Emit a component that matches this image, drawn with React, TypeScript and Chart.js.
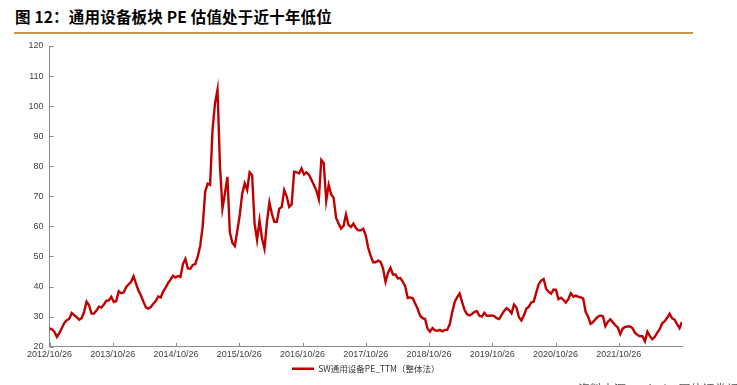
import React, { useEffect, useRef } from 'react';
import { Chart, registerables } from 'chart.js';

Chart.register(...registerables);

const titleText = '图 12：通用设备板块 PE 估值处于近十年低位';
const sourceText = '资料来源：Wind，国信证券经济研究所';
const seriesName = 'SW通用设备PE_TTM（整体法）';

// Biweekly PE_TTM readings, 2012/10/26 → 2022/10
const peValues = [
  26.1, 25.8, 24.9, 23.2, 24.6, 26.2, 27.9, 28.8, 29.3, 31.2,
  30.5, 29.8, 29.0, 29.5, 31.6, 35.0, 33.8, 31.0, 31.0, 32.0,
  33.3, 33.0, 34.0, 35.3, 35.4, 36.6, 34.9, 35.2, 38.4, 37.8,
  38.0, 39.8, 40.7, 41.5, 43.4, 41.0, 38.7, 37.0, 35.0, 33.1,
  32.7, 33.2, 34.3, 35.2, 36.7, 36.4, 38.3, 39.6, 41.2, 42.3,
  43.6, 43.0, 43.5, 43.2, 47.5, 49.2, 46.0, 45.9, 47.2, 47.5,
  50.0, 53.6, 60.0, 71.5, 74.2, 73.8, 92.3, 101.0, 105.5, 80.0,
  66.0, 71.0, 76.5, 58.0, 54.6, 53.5, 58.5, 63.8, 70.9, 74.3,
  72.1, 78.0, 77.0, 61.0, 55.5, 62.0, 56.0, 52.6, 61.5, 68.0,
  64.2, 61.5, 61.5, 65.9, 66.5, 72.1, 70.0, 66.5, 67.3, 78.2,
  78.0, 77.6, 79.3, 77.3, 78.0, 77.2, 75.5, 73.8, 72.0, 69.1,
  82.1, 81.0, 68.5, 73.8, 70.6, 69.5, 62.8, 61.0, 59.3, 60.2,
  64.0, 60.5, 59.8, 60.9, 59.5, 58.7, 58.7, 59.2, 57.0, 52.8,
  50.2, 48.1, 48.1, 48.6, 48.2, 46.0, 41.6, 44.5, 46.2, 44.0,
  44.0, 42.7, 42.8, 41.6, 40.0, 36.2, 36.4, 36.1, 34.4, 32.6,
  30.3, 29.5, 29.2, 26.1, 25.0, 26.2, 25.4, 25.3, 25.6, 25.1,
  25.6, 25.6, 27.5, 31.5, 34.9, 36.5, 37.7, 34.8, 32.2, 30.8,
  30.4, 30.9, 31.6, 31.8, 30.3, 30.0, 31.3, 30.3, 30.3, 30.4,
  30.2, 29.5, 29.2, 30.6, 31.9, 32.8, 32.2, 31.1, 34.0, 33.0,
  29.8, 28.7, 30.4, 32.6, 33.3, 34.7, 35.0, 38.0, 40.8, 42.0,
  42.5, 39.3, 38.3, 37.6, 39.0, 38.9, 35.8, 36.3, 35.6, 34.7,
  35.8, 37.8, 36.6, 37.0, 36.6, 36.4, 36.0, 31.6, 30.0, 27.6,
  28.2, 29.2, 30.0, 30.4, 30.1, 26.8, 28.3, 29.1, 28.1, 27.2,
  26.4, 24.2, 26.0, 26.6, 26.7, 26.7, 26.1, 24.6, 23.9, 23.5,
  23.5, 21.8, 25.0, 23.5, 22.5, 23.3, 24.7, 25.9, 27.8, 28.5,
  29.6, 31.0, 29.4, 29.0, 27.5, 26.2, 28.2,
];

const xTickLabels = [
  '2012/10/26', '2013/10/26', '2014/10/26', '2015/10/26', '2016/10/26',
  '2017/10/26', '2018/10/26', '2019/10/26', '2020/10/26', '2021/10/26',
];
const spanYears = 10;
const yMin = 20;
const yMax = 120;
const yStep = 10;

const axisColor = '#8c8c8c';
const lineColor = '#C00000';
const tickFont = { family: '"Liberation Sans", Arial, sans-serif', size: 9 };

const innerTicks = {
  id: 'innerTicks',
  afterDraw(chart: any) {
    const { ctx, chartArea } = chart;
    const xs = chart.scales.x;
    const ys = chart.scales.y;
    ctx.save();
    ctx.strokeStyle = axisColor;
    ctx.lineWidth = 1;
    ctx.beginPath();
    xs.ticks.forEach((t: any) => {
      const px = Math.round(xs.getPixelForValue(t.value)) + 0.5;
      ctx.moveTo(px, chartArea.bottom);
      ctx.lineTo(px, chartArea.bottom - 4);
    });
    ys.ticks.forEach((t: any) => {
      const py = Math.round(ys.getPixelForValue(t.value)) + 0.5;
      ctx.moveTo(chartArea.left, py);
      ctx.lineTo(chartArea.left + 4, py);
    });
    ctx.stroke();
    ctx.restore();
  },
};

function App() {
  const ref = useRef<HTMLCanvasElement>(null);

  useEffect(() => {
    if (!ref.current) return;
    const n = peValues.length;
    const points = peValues.map((v, i) => ({ x: (i * spanYears) / (n - 1), y: v }));
    const chart = new Chart(ref.current, {
      type: 'line',
      data: {
        datasets: [
          {
            label: seriesName,
            data: points,
            borderColor: lineColor,
            backgroundColor: lineColor,
            borderWidth: 2.4,
            pointRadius: 0,
            tension: 0,
            fill: false,
          },
        ],
      },
      options: {
        animation: false,
        responsive: false,
        devicePixelRatio: 1,
        layout: { padding: { left: 22.5, right: 55, top: 46, bottom: 2 } },
        scales: {
          x: {
            type: 'linear',
            min: 0,
            max: spanYears,
            afterBuildTicks: (scale: any) => {
              scale.ticks = xTickLabels.map((_, i) => ({ value: i }));
            },
            grid: { display: false, drawTicks: false },
            border: { display: true, color: axisColor, width: 1 },
            ticks: {
              autoSkip: false,
              maxRotation: 0,
              padding: 2,
              color: '#404040',
              font: tickFont,
              callback: (v: any) => xTickLabels[Math.round(v)] ?? '',
            },
          },
          y: {
            min: yMin,
            max: yMax,
            grid: { display: false, drawTicks: false },
            border: { display: true, color: axisColor, width: 1 },
            ticks: {
              stepSize: yStep,
              padding: 6,
              color: '#404040',
              font: tickFont,
            },
          },
        },
        plugins: {
          legend: {
            display: true,
            position: 'bottom',
            fullSize: false,
            labels: {
              usePointStyle: true,
              pointStyle: 'line',
              pointStyleWidth: 22,
              color: '#333333',
              padding: 3,
              font: { family: '"Noto Sans CJK SC", sans-serif', size: 8.5 },
            },
          },
          tooltip: { enabled: false },
        },
      },
      plugins: [innerTicks],
    } as any);
    return () => chart.destroy();
  }, []);

  return (
    <div
      style={{
        position: 'fixed',
        left: 0,
        top: 0,
        width: 737,
        height: 385,
        background: '#ffffff',
        overflow: 'hidden',
      }}
    >
      <div
        style={{
          position: 'absolute',
          left: 15,
          top: 6,
          fontFamily: '"Noto Sans CJK SC", sans-serif',
          fontWeight: 700,
          fontSize: 15.5,
          letterSpacing: 0.2,
          lineHeight: '20px',
          color: '#000',
          whiteSpace: 'nowrap',
        }}
      >
        {titleText}
      </div>
      <div
        style={{
          position: 'absolute',
          left: 14,
          top: 32,
          width: 679,
          height: 2,
          background: '#C8964B',
        }}
      />
      <canvas
        ref={ref}
        width={737}
        height={385}
        style={{ position: 'absolute', left: 0, top: 0, width: 737, height: 385 }}
      />
      <div
        style={{
          position: 'absolute',
          left: 578,
          top: 382,
          fontFamily: '"Noto Sans CJK SC", sans-serif',
          fontSize: 12,
          lineHeight: '14px',
          color: '#555',
          whiteSpace: 'nowrap',
        }}
      >
        {sourceText}
      </div>
    </div>
  );
}

export default App;
